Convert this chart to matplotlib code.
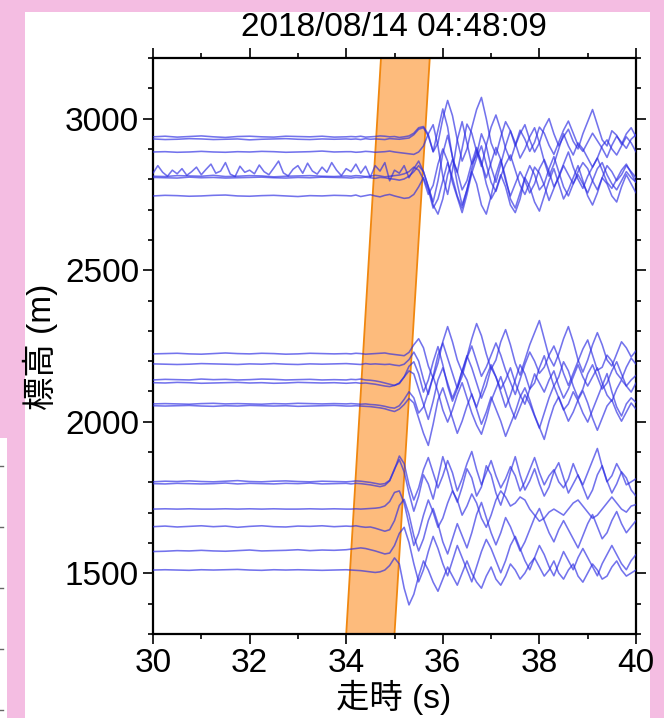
import numpy as np
import matplotlib
matplotlib.use('Agg')
import matplotlib.pyplot as plt
from matplotlib.patches import Polygon, Rectangle
from matplotlib.lines import Line2D

plt.rcParams['font.family'] = ['Liberation Sans', 'Noto Sans CJK JP', 'DejaVu Sans']

# ---------------- text / axes ----------------
TITLE = "2018/08/14 04:48:09"
XLABEL = "走時 (s)"
YLABEL = "標高 (m)"
X_TICKS = [30, 32, 34, 36, 38, 40]
Y_TICKS = [1500, 2000, 2500, 3000]
XLIM = (30, 40)
YLIM = (1300, 3200)

# ---------------- picking band (parallelogram) ----------------
BAND_ELEV = [1300, 3200]
BAND_START = [34.0, 34.72]
BAND_END = [35.0, 35.73]

# ---------------- time grids ----------------
PRE_T0, PRE_STEP = 30.0, 0.25      # regular pre-arrival samples
NOISY_STEP = 0.1                   # noisy station pre-arrival samples
POST_T0, POST_STEP = 34.1, 0.1     # post samples

# ---------------- upper group (station elevations, m) ----------------
upper_base = [2940, 2932, 2890, 2815, 2810, 2805, 2745]
upper_pre = [
    [0, 2, -1, 1, 3, 0, -2, 1, 2, 0, -1, 2, 1, 0, 2, -1, 0],
    [1, -1, 0, 2, 1, -1, 0, 1, -2, 0, 1, 2, 0, -1, 1, 0, 1],
    [0, 1, -1, 0, 2, 0, -1, 1, 0, 2, 1, -1, 0, 1, 3, 0, 1],
    None,  # noisy station, see noisy_pre
    [0, -1, 2, 1, 0, 3, -1, 0, 2, 1, -2, 0, 1, 2, 0, -1, 1],
    [1, 0, -1, 2, 0, 1, -1, 0, 1, 2, 0, -1, 1, 0, 2, 1, 0],
    [0, 2, 1, -1, 0, 2, 3, 0, -1, 1, 2, 0, -2, 1, 0, 2, 1],
]
noisy_pre = [5, 30, 8, -5, 15, 3, 20, -2, 10, 25,
             0, 18, 35, 5, 12, 40, 2, -6, 28, 8,
             15, 3, 32, 10, 0, 22, 45, 6, -4, 18,
             30, 5, 38, 12, 2, 25, 8, 40, 15, -3,
             20]
upper_post = [
    [1, 0, 2, -1, 0, 1, 3, 2, 0, 1, -2, 0, 3,
     12, 30, 34, 8, -50, -20, 60, 120, 70, -10,
     -80, -40, 30, 90, 130, 60, -20, -60, 0, 50,
     20, -30, 10, 40, -10, -50, -20, 30, 60, 10,
     -30, 0, 25, -15, -40, 10, 50, 90, 40, -10,
     -30, 20, 5, -25, 10, 30, 0],
    [0, 1, -1, 2, 0, 1, 0, -1, 2, 1, 0, 2, 4,
     15, 33, 38, 10, -40, 30, 100, 40, -60, -110,
     -30, 50, 20, -40, -90, -20, 40, 80, 30, -30,
     -70, -20, 30, 0, -40, -10, 40, 20, -20, -50,
     -10, 30, 60, 20, -20, -40, -10, 20, -5, -30,
     -60, -20, 10, -10, -30, 0, 15],
    [1, -1, 0, 2, 1, -1, 0, 1, 3, 0, -2, -4, -6,
     -8, 0, 20, 60, 90, 20, -80, -140, -60, 40,
     100, 30, -40, -10, 60, 20, -50, -100, -40, 20,
     70, 30, -20, 10, 50, 80, 30, -30, -80, -40,
     10, 60, 20, -10, 30, 10, -20, -50, -20, 20,
     40, 10, -10, 20, 50, 30, 0],
    [10, 35, 5, 28, -8, 30, 12, 40, -20, 15, 5, 30, -10,
     20, 45, 10, -40, -90, -20, 70, 130, 60, -30,
     -100, -50, 20, 80, 40, -10, 40, 90, 50, -20,
     -70, -30, 10, -20, -60, -30, 20, 50, 10, -40,
     -10, 30, 0, -30, 10, 40, 20, -20, -50, -10,
     30, 10, -20, 0, 30, 10, -10],
    [0, 2, 1, -1, 0, 3, 1, -2, 0, 2, 4, 8, 15,
     30, 20, -10, -60, -30, 40, 90, 50, -20, -70,
     -120, -60, 10, 60, 100, 40, -20, -50, 0, 40,
     70, 20, -30, -60, -20, 30, 10, -30, -80, -40,
     0, 40, 80, 30, -10, -40, 0, 30, 60, 20,
     -20, -40, -10, 20, 40, 10, -20],
    [-1, 1, 0, 2, 0, -2, 1, 0, -3, -5, -8, -4, 5,
     20, 40, 20, -30, -90, -120, -70, 10, 60, 20,
     -40, -10, 50, 100, 50, -20, -70, -40, 10, -30,
     -90, -115, -70, 0, 40, 10, -40, -20, 30, 70,
     20, -30, -60, -20, 10, -20, -50, -10, 30, 50,
     10, -20, -40, -10, 20, 0, -15],
    [0, 3, -2, 1, 4, 0, -3, 2, 5, 0, -4, -8, -6,
     5, 30, 60, 20, -40, -10, 50, 110, 60, 0,
     -40, 20, 80, 40, -30, -60, 0, 70, 120, 60,
     -10, -40, 10, 60, 30, -20, -50, 0, 50, 90,
     40, -10, 20, 60, 100, 50, 0, -30, 10, 60,
     40, 0, -20, 30, 70, 40, 10],
]

# ---------------- middle group ----------------
middle_base = [2224, 2190, 2138, 2128, 2059, 2052]
middle_pre = [
    [0, 1, 2, 0, -1, 1, 3, 1, 0, 2, 1, -1, 0, 2, 1, 0, 1],
    [1, 0, -1, 0, 2, 1, 0, -1, 1, 0, 2, 0, -1, 1, 0, 1, 2],
    [0, 2, 1, 0, 3, 1, 2, 0, 1, 3, 2, 0, 1, 2, 0, 1, 0],
    [1, 0, 2, 1, -1, 0, 1, 2, 0, 1, -1, 0, 2, 1, 0, 1, -1],
    [0, 1, 0, -1, 1, 2, 0, 1, 0, -1, 1, 0, 2, 1, 0, 1, 0],
    [1, 0, 1, 2, 0, -1, 1, 0, 2, 1, 0, 1, -1, 0, 1, 2, 0],
]
middle_post = [
    [0, 2, 1, -1, 0, 1, 2, 3, 0, -2, -4, -6, 5,
     30, 50, 20, -40, -80, -30, 40, 90, 40, -20,
     -60, -10, 50, 100, 60, 0, -50, -20, 40, 80,
     30, -30, -70, -20, 30, 70, 110, 50, -10, -40,
     0, 50, 90, 40, -20, -60, -20, 30, 70, 30,
     -20, -40, 0, 40, 20, -10, 10],
    [1, 0, -1, 2, 0, 1, 0, -1, 0, -3, -5, 0, 15,
     40, 10, -50, -100, -40, 30, 70, 20, -30, -80,
     -40, 20, 60, 10, -40, -10, 30, 70, 30, -20,
     -60, -100, -50, 0, 40, 10, -30, -10, 30, 60,
     20, -30, -70, -30, 10, 50, 80, 30, -20, -10,
     30, 10, -30, -50, -10, 20, 0],
    [2, 1, 3, 0, -1, -3, -6, -10, -14, -18, -12, 10, 45,
     60, 20, -40, 0, 60, 110, 50, -20, -70, -30,
     30, 80, 40, -10, -60, -20, 40, 10, -40, -90,
     -50, 0, 50, 20, -30, -10, 40, 80, 30, -20,
     10, 60, 30, -20, -60, -30, 20, 50, 10, -30,
     -10, 30, 60, 20, -20, 0, 15],
    [0, 1, -1, 0, -2, -4, -7, -10, -12, -8, 0, 20, 40,
     30, -20, -70, -120, -60, 10, 50, 0, -50, -10,
     40, 10, -40, -80, -30, 20, 60, 20, -20, 10,
     50, 0, -40, -70, -20, 30, 0, -30, 10, 40,
     -10, -50, -20, 20, 60, 20, -10, 20, 50, 0,
     -40, -60, -20, 10, -10, -30, 0],
    [1, 0, -1, 0, -2, -3, -5, -8, -12, -14, -6, 15, 40,
     20, -30, -10, 40, 90, 40, -20, -60, -20, 30,
     70, 20, -30, -70, -100, -50, 10, 50, 90, 40,
     -10, -50, -10, 30, 0, -40, -80, -30, 20, 60,
     20, -20, 0, 40, 10, -30, -60, -20, 20, 60,
     100, 40, -10, -40, 0, 20, 5],
    [0, 1, 0, -1, -2, -4, -6, -9, -14, -18, -10, 5, 25,
     10, -40, -90, -130, -60, 20, 60, 10, -40, -90,
     -50, 0, 40, -10, -60, -20, 30, -10, -50, -100,
     -60, -20, 30, 60, 20, -30, -70, -110, -50, 0,
     30, -10, -50, -20, 20, 50, 10, -40, -80, -40,
     0, 20, -20, -50, -20, 10, -10],
]

# ---------------- lower group ----------------
lower_base = [1802, 1795, 1712, 1654, 1572, 1511]
lower_pre = [
    [0, 2, 1, 3, 1, 0, 2, 4, 1, 0, 2, 3, 1, 0, 2, 1, 0],
    [1, 0, 2, 1, 0, 1, 3, 0, 2, 1, 0, 2, 1, 3, 0, 1, 2],
    [0, 1, 0, 1, 0, 0, 1, 0, 1, 0, 1, 0, 0, 1, 0, 1, 0],
    [0, 2, -1, 1, 3, 0, 2, -2, 1, 3, 0, -1, 2, 1, 3, 0, 2],
    [0, 1, 3, 2, 4, 2, 1, 3, 5, 2, 3, 4, 6, 3, 5, 4, 6],
    [0, 1, 0, -1, 1, 0, 1, 2, 0, -1, 1, 0, 1, 0, -1, 0, 1],
]
lower_post = [
    [1, 3, 2, 0, -2, -5, -8, -6, 5, 40, 85, 60, -10,
     -60, -20, 40, 80, 30, -20, 20, 70, 30, -30,
     10, 60, 100, 40, -10, 30, 70, 20, -20, 10,
     50, 20, -30, 0, 40, 80, 30, -10, 20, 40,
     0, -20, 10, 60, 20, -10, 30, 70, 110, 50,
     0, 20, 60, 30, -10, 0, 10],
    [0, 2, 1, -1, -3, -6, -9, -5, 10, 50, 80, 40, -30,
     -90, -40, 30, 0, -50, 20, 90, 40, -20, -60,
     -10, 50, 20, -40, -10, 60, 30, -30, -70, -20,
     40, 90, 30, -20, 10, 50, 0, -40, -10, 40,
     70, 20, -30, 0, 30, -10, -50, -20, 30, 60,
     10, -30, 0, 40, 20, -20, -40],
    [0, 1, 0, 1, 2, 3, 5, 10, 25, 55, 60, 20, -50,
     -120, -80, -20, 30, -10, -60, -30, 20, 60, 30,
     -20, 10, 50, 20, -30, -60, -20, 30, 60, 40,
     10, 20, 40, 30, 0, -20, -40, -30, -10, 0,
     -10, -20, 0, 20, 30, 10, -10, -30, -20, 0,
     20, 40, 20, 0, -10, 10, 15],
    [1, 3, 0, -2, -1, -5, -10, -15, -10, 20, 70, 90, 40,
     -30, -80, -40, 20, 60, 10, -50, -90, -40, 10,
     -30, -70, -20, 40, 80, 30, -20, -60, -20, 30,
     0, -40, -80, -50, -10, 30, 60, 20, -20, -50,
     -10, 20, -10, -40, -70, -30, 10, 40, 0, -40,
     -20, 20, 50, 10, -20, 0, 20],
    [8, 10, 12, 10, 6, 2, -3, -8, -5, 20, 60, 80, 30,
     -40, -100, -60, 0, 50, 10, -40, -80, -30, 20,
     -20, -60, -100, -50, 0, 40, 10, -30, -70, -30,
     20, 50, 10, -30, -60, -20, 20, -10, -50, -80,
     -40, 0, -30, -60, -20, 10, -20, -50, -80, -40,
     -10, 20, -10, -40, -60, -30, -10],
    [0, -1, -2, -4, -6, -8, -6, 0, 15, 40, 20, -60, -115,
     -80, -20, 30, 0, -40, -70, -30, 10, -20, -50,
     -10, 30, -10, -40, -60, -20, 10, -30, -50, -20,
     20, 0, -30, -10, 20, 40, 10, -20, 0, 30,
     -10, -30, 0, 20, -20, -40, -10, 20, 0, -30,
     -20, 10, 30, 0, -20, -10, 0],
]

# ---------------- figure ----------------
PINK = '#F4BDE2'
fig = plt.figure(figsize=(6.64, 7.18), dpi=100, facecolor=PINK)
W, H = 664.0, 718.0
# white panel
fig.patches.append(Rectangle((25 / W, 0), (650 - 25) / W, 1 - 12 / H,
                             transform=fig.transFigure, fc='white', ec='none', zorder=-5))
# neighbouring panel strip at lower left
fig.patches.append(Rectangle((0, 0), 7 / W, 1 - 438 / H,
                             transform=fig.transFigure, fc='white', ec='none', zorder=-5))
for yy in [466, 527, 588, 649, 710]:
    fig.lines.append(Line2D([0, 3 / W], [1 - yy / H, 1 - yy / H],
                            transform=fig.transFigure, color='#666666', lw=1.0))

ax = fig.add_axes([153 / W, 1 - 634 / H, (636 - 153) / W, (634 - 58) / H])
ax.set_facecolor('white')
ax.set_xlim(*XLIM)
ax.set_ylim(*YLIM)

# orange band
band = Polygon([[BAND_START[0], BAND_ELEV[0]], [BAND_END[0], BAND_ELEV[0]],
                [BAND_END[1], BAND_ELEV[1]], [BAND_START[1], BAND_ELEV[1]]],
               closed=True, fc='#FDBB7C', ec='#F0870F', lw=1.3, zorder=1)
ax.add_patch(band)

LINE_COLOR = '#2B2BE3'


def draw(base, pre, post, pre_step):
    t_pre = PRE_T0 + pre_step * np.arange(len(pre))
    t_post = POST_T0 + POST_STEP * np.arange(len(post))
    t = np.concatenate([t_pre, t_post])
    v = base + np.concatenate([np.asarray(pre, float), np.asarray(post, float)])
    ax.plot(t, v, color=LINE_COLOR, lw=1.15, alpha=0.66, zorder=3,
            solid_joinstyle='round', solid_capstyle='round')


for base, pre, post in zip(upper_base, upper_pre, upper_post):
    if pre is None:
        draw(base, noisy_pre, post, NOISY_STEP)
    else:
        draw(base, pre, post, PRE_STEP)
for base, pre, post in zip(middle_base, middle_pre, middle_post):
    draw(base, pre, post, PRE_STEP)
for base, pre, post in zip(lower_base, lower_pre, lower_post):
    draw(base, pre, post, PRE_STEP)

# ticks / frame
ax.set_xticks(X_TICKS)
ax.set_yticks(Y_TICKS)
ax.set_xticks(np.arange(XLIM[0], XLIM[1] + 0.5, 1), minor=True)
ax.set_yticks(np.arange(YLIM[0], YLIM[1] + 1, 100), minor=True)
ax.tick_params(which='both', direction='out', top=True, right=True,
               width=1.2, colors='black', labelsize=24)
ax.tick_params(which='major', length=7, pad=3)
ax.tick_params(which='minor', length=3.5)
for s in ax.spines.values():
    s.set_linewidth(1.6)

fig.text(394 / W, 1 - 36 / H, TITLE, ha='center', va='baseline', fontsize=24)
fig.text(394 / W, 1 - 697 / H, XLABEL, ha='center', va='center', fontsize=24)
fig.text(40 / W, 1 - 347 / H, YLABEL, ha='center', va='center', fontsize=24, rotation=90)

fig.savefig('out.png', dpi=100, facecolor=PINK)
